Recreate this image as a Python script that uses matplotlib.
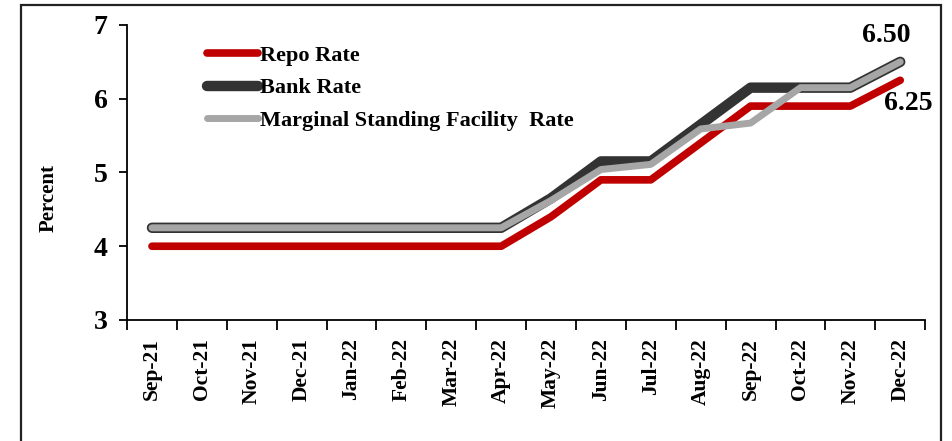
import numpy as np
import matplotlib.pyplot as plt
from matplotlib.patches import Rectangle

months = ["Sep-21", "Oct-21", "Nov-21", "Dec-21", "Jan-22", "Feb-22", "Mar-22", "Apr-22",
          "May-22", "Jun-22", "Jul-22", "Aug-22", "Sep-22", "Oct-22", "Nov-22", "Dec-22"]
repo_rate = [4.00, 4.00, 4.00, 4.00, 4.00, 4.00, 4.00, 4.00,
             4.40, 4.90, 4.90, 5.40, 5.90, 5.90, 5.90, 6.25]
bank_rate = [4.25, 4.25, 4.25, 4.25, 4.25, 4.25, 4.25, 4.25,
             4.65, 5.15, 5.15, 5.65, 6.15, 6.15, 6.15, 6.50]
msf_rate = [4.25, 4.25, 4.25, 4.25, 4.25, 4.25, 4.25, 4.25,
            4.62, 5.04, 5.11, 5.59, 5.67, 6.15, 6.15, 6.50]

plt.rcParams['font.family'] = ['Liberation Serif', 'DejaVu Serif']
plt.rcParams['font.weight'] = 'bold'
plt.rcParams['axes.labelweight'] = 'bold'

fig = plt.figure(figsize=(9.53, 4.41), dpi=100)
ax = fig.add_axes([0.1333, 0.2744, 0.8375, 0.669])

# outer frame
fig.patches.append(Rectangle((21 / 953, -0.1), (941 - 21) / 953, 1.1 - 5 / 441,
                             transform=fig.transFigure, fill=False,
                             edgecolor="#222222", linewidth=1.6))

x = np.arange(len(months))
ax.plot(x, repo_rate, color="#C00000", lw=5.5, solid_capstyle="round",
        solid_joinstyle="round", label="Repo Rate")
ax.plot(x, bank_rate, color="#333333", lw=7.5, solid_capstyle="round",
        solid_joinstyle="round", label="Bank Rate")
ax.plot(x, msf_rate, color="#A6A6A6", lw=5, solid_capstyle="round",
        solid_joinstyle="round", label="Marginal Standing Facility  Rate")

ax.set_xlim(-0.5, len(months) - 0.5)
ax.set_ylim(3, 7)
ax.set_yticks([3, 4, 5, 6, 7])
ax.tick_params(axis="y", labelsize=20, length=6, width=1.3, pad=8)

ax.set_xticks(np.arange(-0.5, len(months), 1.0))
ax.set_xticklabels([])
ax.tick_params(axis="x", which="major", length=7, width=1.3)
ax.set_xticks(x, minor=True)
ax.set_xticklabels(months, minor=True, rotation=90, fontsize=15.5)
ax.tick_params(axis="x", which="minor", length=0, pad=13)

for s in ["top", "right"]:
    ax.spines[s].set_visible(False)
for s in ["left", "bottom"]:
    ax.spines[s].set_linewidth(1.3)

ax.set_ylabel("Percent", fontsize=15)
ax.yaxis.set_label_coords(-0.086, 0.415)

ax.annotate(f"{bank_rate[-1]:.2f}", (x[-1], bank_rate[-1]), xytext=(-10, 10),
            textcoords="offset points", ha="center", va="bottom", fontsize=20)
ax.annotate(f"{repo_rate[-1]:.2f}", (x[-1], repo_rate[-1]), xytext=(6, -8),
            textcoords="offset points", ha="center", va="top", fontsize=20)

leg = ax.legend(loc="upper left", bbox_to_anchor=(0.075, 1.0), frameon=False,
                fontsize=16, handlelength=2.3, handletextpad=0.1, labelspacing=0.55)

fig.savefig("out.png", dpi=100)
